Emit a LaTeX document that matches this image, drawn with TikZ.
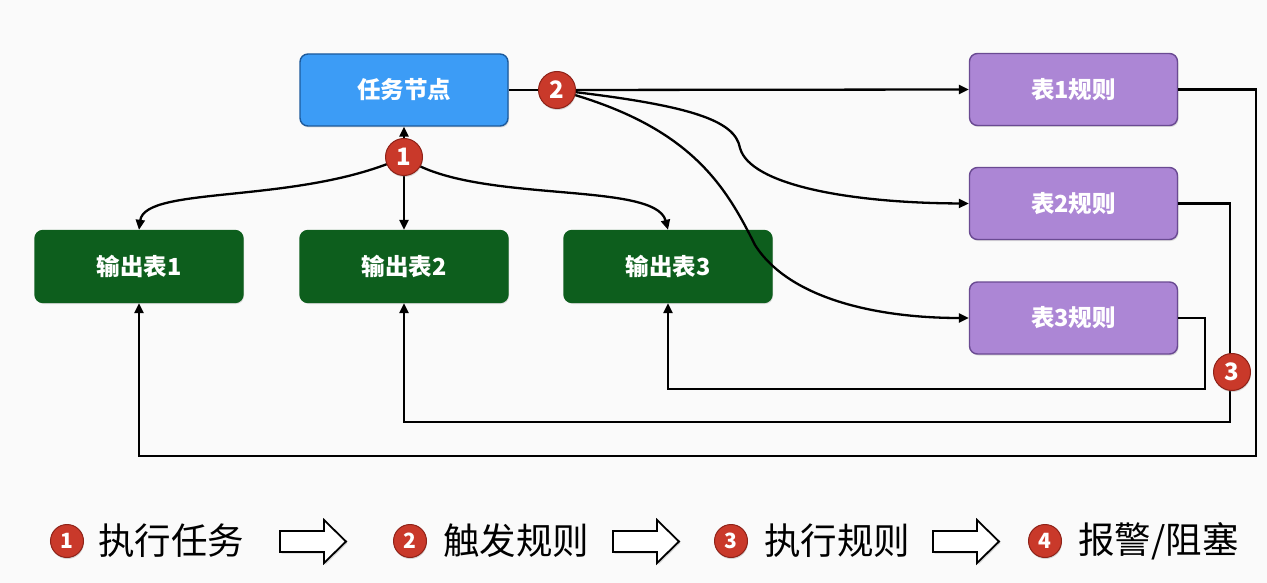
\documentclass[tikz,border=0pt]{standalone}
\usepackage{fontspec}
\setmainfont{Noto Sans CJK SC}
\usetikzlibrary{arrows.meta,shadows}
\definecolor{bg}{HTML}{FAFAFA}
\definecolor{taskblue}{HTML}{3C9CF6}
\definecolor{taskedge}{HTML}{1C5A9C}
\definecolor{outgreen}{HTML}{0D5E1D}
\definecolor{rulepurple}{HTML}{AC86D5}
\definecolor{ruleedge}{HTML}{6A4A92}
\definecolor{badgered}{HTML}{C9392A}
\definecolor{badgeedge}{HTML}{8E2218}
\tikzset{
  boxbase/.style={rectangle, rounded corners=8pt, minimum width=208pt, minimum height=72pt, line width=1.4pt, text=white, font=\fontsize{23.5}{26}\selectfont\bfseries, drop shadow={shadow xshift=1pt, shadow yshift=-1.5pt, opacity=0.25}},
  taskbox/.style={boxbase, fill=taskblue, draw=taskedge},
  outbox/.style={boxbase, fill=outgreen, draw=outgreen},
  rulebox/.style={boxbase, fill=rulepurple, draw=ruleedge},
  badge/.style={circle, fill=badgered, draw=badgeedge, line width=1pt, minimum size=37pt, inner sep=0pt, text=white, font=\fontsize{24}{24}\selectfont\bfseries, drop shadow={shadow xshift=0.5pt, shadow yshift=-1.5pt, opacity=0.3}},
  smallbadge/.style={badge, minimum size=33pt, font=\fontsize{21}{21}\selectfont\bfseries},
  conn/.style={line width=2.3pt, black},
  arr/.style={conn, -{Triangle[length=10pt,width=9pt]}},
  legendtext/.style={anchor=west, inner sep=0pt, font=\fontsize{36.5}{40}\selectfont},
  hollow/.style={draw=black, line width=1.8pt, fill=white, line join=miter, drop shadow={shadow xshift=1.5pt, shadow yshift=-1.5pt, opacity=0.3}}
}
\begin{document}
\begin{tikzpicture}[x=1pt,y=-1pt]
\fill[bg] (0,0) rectangle (1267,583);
\useasboundingbox (0,0) rectangle (1267,583);

% nodes
\node[taskbox] (task) at (404,90) {任务节点};
\node[outbox] (out1) at (139,266.5) {输出表1};
\node[outbox] (out2) at (404,266.5) {输出表2};
\node[outbox] (out3) at (668,266.5) {输出表3};
\node[rulebox] (r1) at (1073.5,89.5) {表1规则};
\node[rulebox] (r2) at (1073.5,203.5) {表2规则};
\node[rulebox] (r3) at (1073.5,318) {表3规则};

% coordinates
\coordinate (b1c) at (404,157);
\coordinate (b2c) at (557,90);
\coordinate (c1) at (1256,456);
\coordinate (c2) at (1230,422);
\coordinate (c3) at (1205,389);

% step 1 connectors
\draw[arr] (b1c) -- (task.south);
\draw[arr] (b1c) .. controls (300,205) and (145,185) .. (out1.north);
\draw[arr] (b1c) -- (out2.north);
\draw[arr] (b1c) .. controls (470,205) and (655,180) .. (out3.north);

% step 2 connectors
\draw[conn] (task.east) -- (b2c);
\draw[arr] (b2c) -- (r1.west);
\draw[arr] (b2c) .. controls (690,105) and (735,120) .. (740,148) .. controls (750,185) and (850,203) .. (r2.west);
\draw[arr] (b2c) .. controls (690,125) and (725,185) .. (755,245) .. controls (790,300) and (880,318) .. (r3.west);

% step 3 return connectors
\draw[arr] (r1.east) -| (c1) -| (out1.south);
\draw[arr] (r2.east) -| (c2) -| (out2.south);
\draw[arr] (r3.east) -| (c3) -| (out3.south);

% badges
\node[badge] (b1) at (b1c) {1};
\node[badge] (b2) at (b2c) {2};
\node[badge] (b3) at (1232,372) {3};

% legend
\node[smallbadge] (l1) at (67,541) {1};
\node[legendtext] (t1) at (98,541) {执行任务};
\node[smallbadge] (l2) at (410,541) {2};
\node[legendtext] (t2) at (443,541) {触发规则};
\node[smallbadge] (l3) at (731,541) {3};
\node[legendtext] (t3) at (764,541) {执行规则};
\node[smallbadge] (l4) at (1045,541) {4};
\node[legendtext] (t4) at (1078,541) {报警/阻塞};

\foreach \ax in {280,613,933}{
  \draw[hollow] (\ax,531) -- ++(44,0) -- ++(0,-11) -- ++(22,21.5) -- ++(-22,21.5) -- ++(0,-11) -- ++(-44,0) -- cycle;
}
\end{tikzpicture}
\end{document}
